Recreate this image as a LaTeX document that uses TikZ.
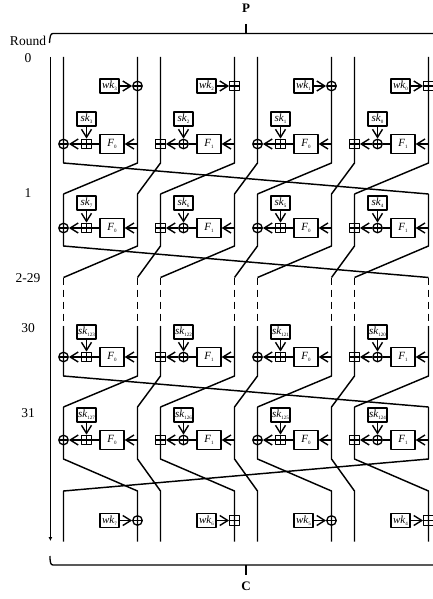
\documentclass[tikz,border=0pt]{standalone}
\usepackage{fontspec}
\setmainfont{Liberation Serif}
\usetikzlibrary{arrows.meta,calc}

\newcommand{\sublab}[2]{\textit{#1}\raisebox{-0.45ex}{\fontsize{5}{5}\selectfont #2}}

\tikzset{
  wire/.style={line width=1.45pt},
  link/.style={line width=1.3pt},
  keyarrow/.style={line width=1.3pt, -{Straight Barb[length=8pt,width=10pt,line width=1.4pt]}},
  keybox/.style={draw, line width=1.35pt, inner sep=0pt, minimum width=19pt, minimum height=14pt, font=\fontsize{11}{11}\selectfont},
  funcbox/.style={draw, line width=1.35pt, inner sep=0pt, minimum width=24pt, minimum height=19pt, font=\fontsize{11}{11}\selectfont},
  xorop/.style={draw, circle, line width=1.3pt, inner sep=0pt, minimum size=9.5pt,
    path picture={\draw[line width=1.2pt] (path picture bounding box.north) -- (path picture bounding box.south)
      (path picture bounding box.west) -- (path picture bounding box.east);}},
  addop/.style={draw, rectangle, line width=1.3pt, inner sep=0pt, minimum size=9.5pt,
    path picture={\draw[line width=1.2pt] (path picture bounding box.north) -- (path picture bounding box.south)
      (path picture bounding box.west) -- (path picture bounding box.east);}},
  roundlab/.style={inner sep=0pt, font=\fontsize{13.5}{14}\selectfont},
  endlab/.style={inner sep=0pt, font=\fontsize{13}{14}\selectfont\bfseries}
}

\begin{document}
\begin{tikzpicture}[x=1pt, y=-1pt, line cap=butt, line join=round]
\useasboundingbox (0,0) rectangle (433,599);

%==================================================
% Wire columns and horizontal levels
%==================================================
\foreach \p/\x in {1/63.5,2/137.5,3/160.5,4/234.5,5/257.5,6/331.5,7/354.5,8/428.5}{
  \coordinate (X\p) at (\x,0);
}
\foreach \n/\y in {T0/57,A0/163,B0/194,A1/246,B1/277.5,T30/326,A30/376,B30/407,A31/459,B31/491,E0/541.7}{
  \coordinate (\n) at (0,\y);
}

%==================================================
% Wires: left rotation, then the last one to the right
%==================================================
\foreach \ytop/\ya/\yb in {T0/A0/B0, B0/A1/B1, T30/A30/B30}{
  \foreach \a/\b in {1/8,2/1,3/2,4/3,5/4,6/5,7/6,8/7}{
    \draw[wire] (X\a |- \ytop) -- (X\a |- \ya) -- (X\b |- \yb);
  }
}
\foreach \a/\b in {1/2,2/3,3/4,4/5,5/6,6/7,7/8,8/1}{
  \draw[wire] (X\a |- B30) -- (X\a |- A31) -- (X\b |- B31) -- (X\b |- E0);
}

% Dashed part for rounds 2-29
\foreach \p in {1,...,8}{
  \draw[wire, dash pattern=on 7pt off 5pt] (X\p |- B1) -- (X\p |- T30);
}

%==================================================
% Round functions
%==================================================
\foreach \r/\ry/\base in {0/144/0, 1/228/4, 30/357/120, 31/440/124}{
  \foreach \c/\lop/\rop/\f in {0/xorop/addop/0, 1/addop/xorop/1, 2/xorop/addop/0, 3/addop/xorop/1}{
    \pgfmathsetmacro{\xl}{63.5+97*\c}
    \pgfmathtruncatemacro{\k}{\base+3-\c}
    \node[\lop] (L\r\c) at (\xl,\ry) {};
    \node[\rop] (M\r\c) at (\xl+23,\ry) {};
    \node[funcbox] (F\r\c) at (\xl+48.5,\ry) {\sublab{F}{\f}};
    \node[keybox] (S\r\c) at (\xl+23,\ry-25) {\sublab{sk}{\k}};
    \coordinate (R\r\c) at (\xl+74,\ry);

    \draw[keyarrow] (R\r\c) -- (F\r\c);
    \draw[link] (F\r\c) -- (M\r\c);
    \draw[keyarrow] (M\r\c) -- (L\r\c);
    \draw[keyarrow] (S\r\c) -- (M\r\c);
  }
}

%==================================================
% Whitening keys
%==================================================
\foreach \w/\wy/\base in {t/86/0, b/520.5/4}{
  \foreach \c/\lop in {0/xorop, 1/addop, 2/xorop, 3/addop}{
    \pgfmathsetmacro{\xl}{63.5+97*\c}
    \pgfmathtruncatemacro{\k}{\base+3-\c}
    \node[keybox] (W\w\c) at (\xl+46,\wy) {\sublab{wk}{\k}};
    \node[\lop] (O\w\c) at (\xl+74,\wy) {};
    \draw[keyarrow] (W\w\c) -- (O\w\c);
  }
}

%==================================================
% Round axis and labels
%==================================================
\coordinate (axtop) at (50.4,57);
\coordinate (axbot) at (50.4,541);
\draw[line width=1.3pt, -{Latex[length=4pt,width=4pt]}] (axtop) -- (axbot);

\node[roundlab] (rlab)  at (28,41)  {Round};
\node[roundlab] (r0)    at (28,58)  {0};
\node[roundlab] (r1)    at (28,193) {1};
\node[roundlab] (r2)    at (28,278) {2-29};
\node[roundlab] (r30)   at (28,328) {30};
\node[roundlab] (r31)   at (28,413) {31};

%==================================================
% Top and bottom brackets
%==================================================
\node[endlab] (P) at (246,8)   {P};
\node[endlab] (C) at (246,586) {C};

\coordinate (Ptick) at (246,24);
\coordinate (Ptop)  at (246,33);
\coordinate (Ctick) at (246,575);
\coordinate (Cbot)  at (246,565);

\draw[link] (49.5,43) .. controls (50,36) and (50.5,33.5) .. (53,33.5) -- (440,33.5);
\draw[link] (50,556) .. controls (50,562) and (50.5,565) .. (53,565) -- (440,565);
\draw[link] (Ptick) -- (Ptop);
\draw[link] (Cbot) -- (Ctick);

\end{tikzpicture}
\end{document}
